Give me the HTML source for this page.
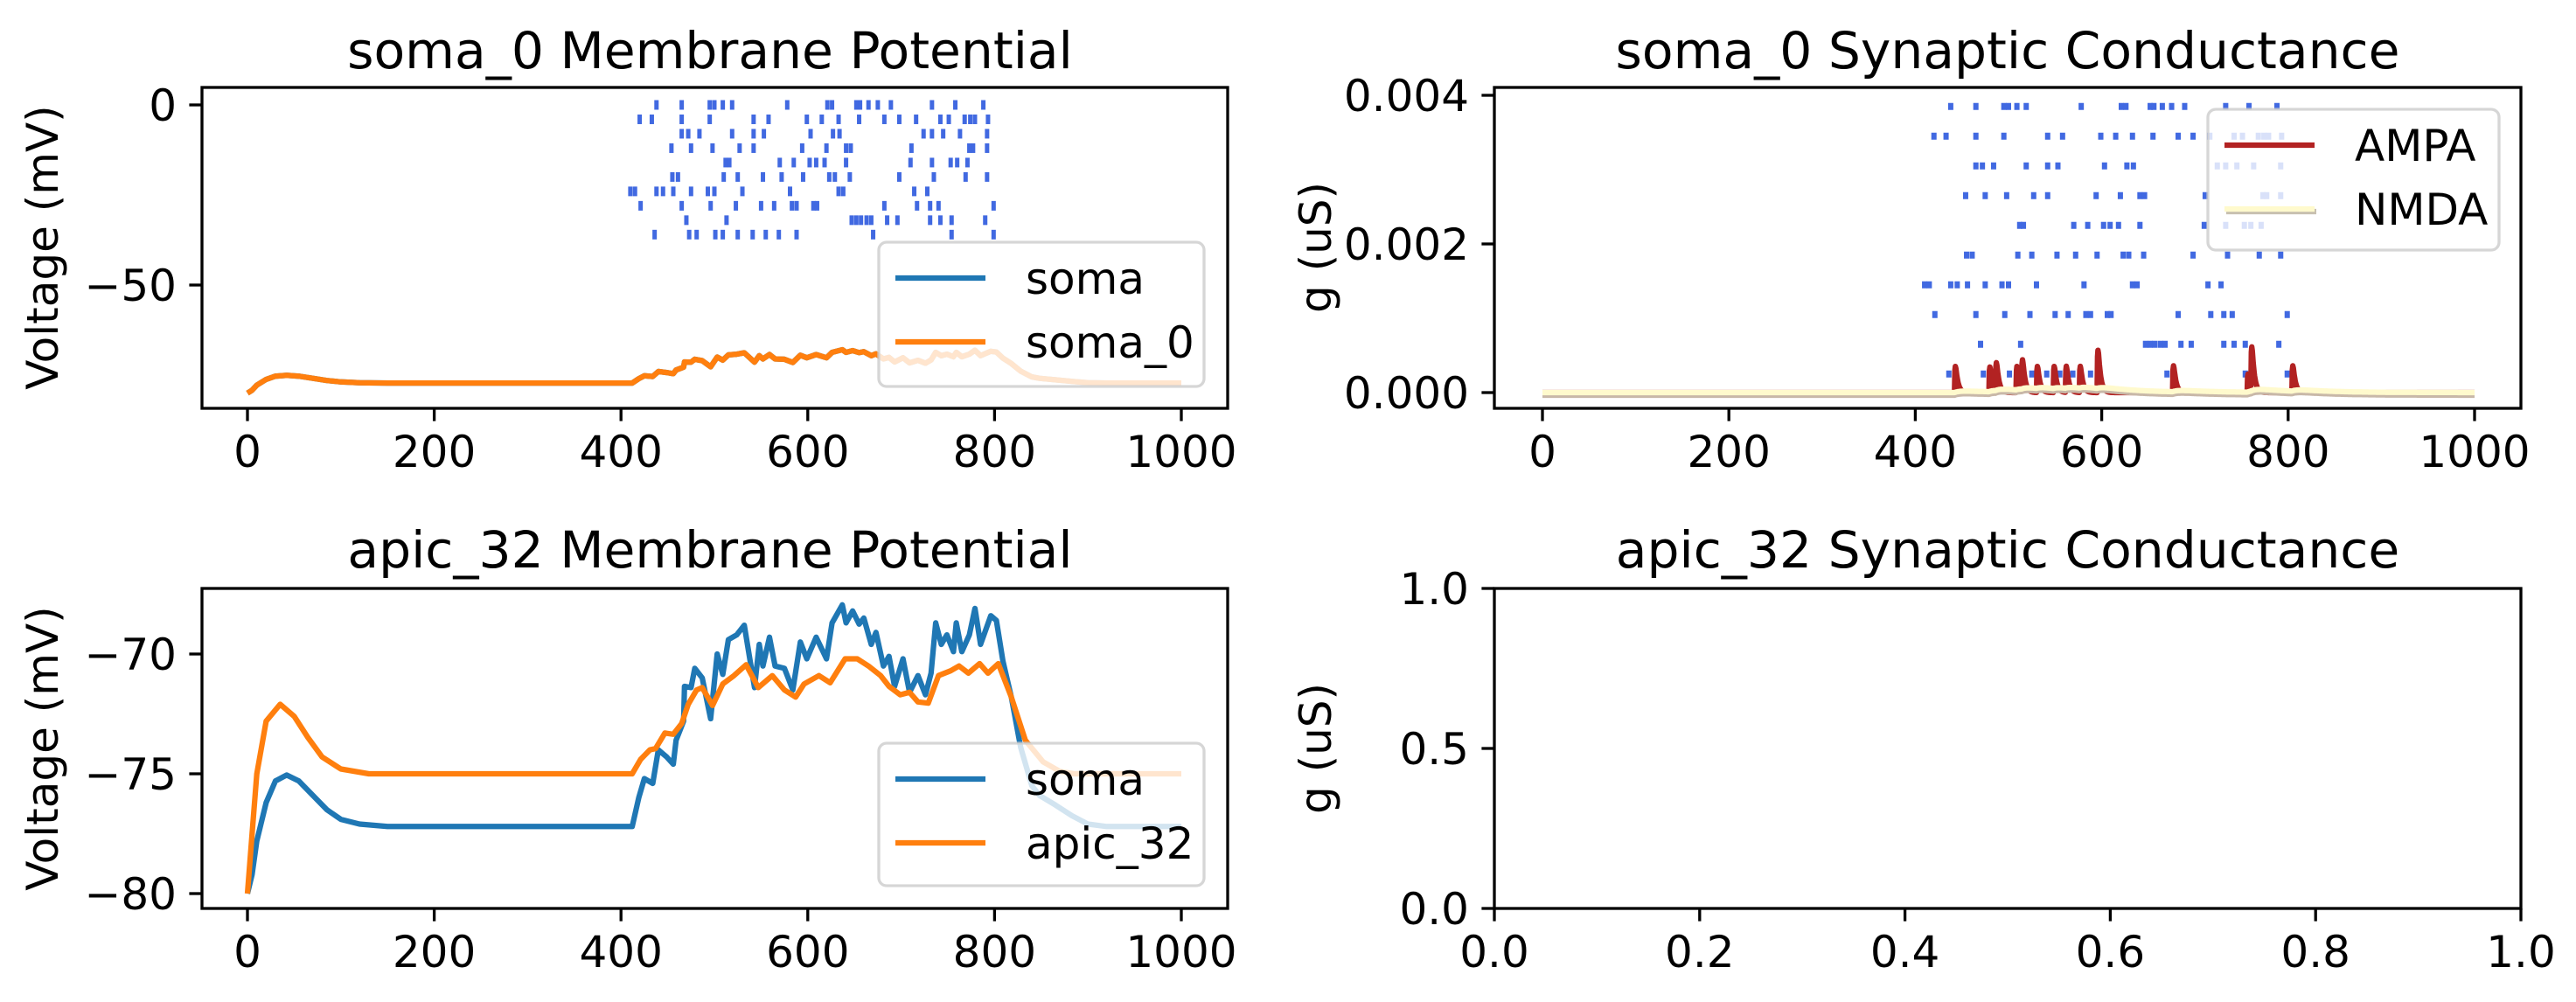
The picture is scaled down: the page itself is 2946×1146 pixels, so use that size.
<!DOCTYPE html>
<html><head><meta charset="utf-8"><style>
html,body{margin:0;padding:0;background:#fff;}
svg{display:block;font-family:"DejaVu Sans","Liberation Sans",sans-serif;}
</style></head><body>
<svg id="fig" width="2946" height="1146" viewBox="0 0 2946 1146" xmlns="http://www.w3.org/2000/svg">
<rect width="2946" height="1146" fill="#fff"/>
<defs>
<clipPath id="c1"><rect x="231" y="100" width="1173" height="367"/></clipPath>
<clipPath id="c2"><rect x="1709" y="100" width="1174" height="367"/></clipPath>
<clipPath id="c3"><rect x="231" y="673" width="1173" height="366"/></clipPath>
</defs>
</svg>
<script>
// ---- data ----
const somaT=[0,5,10,20,30,42,55,70,85,100,120,150,200,300,412,419,425,434,440,449,456,459,467,468,475,479,487,496,503,509,515,524,532,543,548,552,559,565,575,584,592,599,609,620,626,637,641,648,655,660,668,673,681,687,693,702,709,718,726,732,737,743,749,756,759,765,773,779,785,796,802,809,818,828,840,848,865,883,900,920,1000];
const somaV=[-80,-79.2,-77.8,-76.2,-75.3,-75.05,-75.3,-75.9,-76.5,-76.9,-77.1,-77.2,-77.2,-77.2,-77.2,-76.0,-75.2,-75.4,-74.0,-74.3,-74.6,-73.6,-72.8,-71.35,-71.4,-70.6,-71.0,-72.7,-70.0,-70.85,-69.4,-69.2,-68.8,-71.4,-69.6,-70.5,-69.3,-70.5,-70.6,-71.5,-69.5,-70.2,-69.3,-70.2,-68.7,-67.95,-68.7,-68.2,-68.75,-68.5,-69.6,-69.1,-70.5,-70.1,-71.35,-70.2,-71.6,-70.9,-71.7,-70.8,-68.7,-69.6,-69.2,-69.9,-68.7,-69.9,-69.2,-68.1,-69.6,-68.4,-68.6,-70.3,-71.8,-73.9,-75.5,-75.9,-76.3,-76.75,-77.1,-77.2,-77.2];
const apicT=[0,5,10,20,35,50,65,80,100,130,200,300,412,421,431,437,447,456,465,472,481,487,498,509,521,534,547,562,575,587,596,612,624,640,653,665,678,687,699,709,718,729,740,753,762,772,784,793,804,818,833,852,870,885,1000];
const apicV=[-80,-77.5,-75.0,-72.8,-72.1,-72.6,-73.5,-74.3,-74.8,-75.0,-75.0,-75.0,-75.0,-74.4,-74.0,-73.95,-73.3,-73.35,-72.9,-72.1,-71.5,-71.4,-72.15,-71.25,-70.9,-70.45,-71.4,-70.9,-71.5,-71.8,-71.25,-70.9,-71.2,-70.2,-70.2,-70.5,-70.9,-71.35,-71.7,-71.6,-72.0,-72.05,-70.9,-70.7,-70.5,-70.8,-70.4,-70.8,-70.4,-71.8,-73.6,-74.5,-74.9,-75.0,-75.0];
const spikeRows=[
[438,465,495,500,509,519,578,621,626,652,656,665,675,689,733,758,788],
[420,433,465,495,542,558,599,615,633,655,682,698,716,742,751,768,774,779,793],
[465,472,484,519,542,553,603,627,634,724,733,745,763,792],
[454,475,498,527,542,594,620,641,646,711,773,777,792],
[512,516,570,585,602,609,618,641,710,733,753,760,771],
[455,461,510,525,552,572,595,623,629,645,698,735,769,792],
[410,415,438,445,456,475,493,500,530,581,633,638,714,728],
[421,465,496,523,550,564,583,588,606,610,682,717,731,740,799],
[470,513,647,652,657,663,668,685,696,731,742,754,790],
[436,473,481,501,509,525,541,555,569,588,670,754,799]];
const rowVoltage=[0,-4,-8,-12,-16,-20,-24,-28,-32,-36];
const rowCond=[0.00385,0.00345,0.00305,0.00265,0.00225,0.00185,0.00145,0.00105,0.00065,0.00025];
const ampaTimes=[442,479,486,508,514,530,548,561,576,595,676,756,760,804];
const ampaPeaks=[0.00042,0.00041,0.00045,0.00042,0.00048,0.00042,0.00042,0.00042,0.00042,0.00068,0.00043,0.0003,0.00066,0.00043];
const nmdaWeight=[0.00003];
const xTicks=[0,200,400,600,800,1000];
const yTicksTL=[0,-50];
const yTicksBL=[-70,-75,-80];
const yTicksTR=[0,0.002,0.004];
const yTicksTRLabels=["0.000","0.002","0.004"];
const emptyX=[0,0.2,0.4,0.6,0.8,1.0];
const emptyY=[0,0.5,1.0];

const NS="http://www.w3.org/2000/svg";
const svg=document.getElementById('fig');
const FS=50, TFS=58.3;
function mk(tag,attrs,parent){const e=document.createElementNS(NS,tag);for(const k in attrs)e.setAttribute(k,attrs[k]);(parent||svg).appendChild(e);return e;}
const xL=t=>283+t*1.068;
const xR=t=>1764+t*1.066;
const yTL=v=>120-v*4.12;
const yBL=v=>748+(-70-v)*27.4;
const yTR=g=>449-g*85000;
const xE=u=>1709+u*1174;
const yE=u=>1039-u*366;

function linePath(ts,vs,fx,fy){return ts.map((t,i)=>(i?'L':'M')+fx(t).toFixed(1)+' '+fy(vs[i]).toFixed(1)).join(' ');}

function frame(x,y,w,h,name){const r=mk('rect',{x,y,width:w,height:h,fill:'none',stroke:'#000','stroke-width':3.3});

}
function xticks(ticks,fx,yb,labels,name){ticks.forEach((t,i)=>{const x=fx(t);
mk('line',{x1:x,x2:x,y1:yb,y2:yb+14.6,stroke:'#000','stroke-width':3.3});
const tx=mk('text',{x:x,y:yb+67,'font-size':FS,'text-anchor':'middle',fill:'#000'});tx.textContent=labels?labels[i]:String(t);

});}
function yticks(ticks,fy,xl,labels,name){ticks.forEach((t,i)=>{const y=fy(t);
mk('line',{x1:xl,x2:xl-14.6,y1:y,y2:y,stroke:'#000','stroke-width':3.3});
const tx=mk('text',{x:xl-29,y:y+18,'font-size':FS,'text-anchor':'end',fill:'#000'});tx.textContent=labels?labels[i]:String(t).replace('-','\u2212');

});}
function text(x,y,s,size,name,rot){const a={x,y,'font-size':size,'text-anchor':'middle',fill:'#000'};if(rot)a.transform='rotate(-90 '+x+' '+y+')';const t=mk('text',a);t.textContent=s;

return t;}
function raster(rows,fx,fy,h,w,clip,name){const g=mk('g',{'clip-path':'url(#'+clip+')'});


rows.forEach((row,r)=>row.forEach(t=>{mk('rect',{x:fx(t)-w/2,y:fy(r)-h/2,width:w,height:h,fill:'#4169e1'},g);}));}
function legend(x,y,w,h,items,name){const g=mk('g',{});


mk('rect',{x,y,width:w,height:h,rx:9,fill:'#fff','fill-opacity':0.8,stroke:'#cccccc','stroke-opacity':0.8,'stroke-width':3.3},g);
items.forEach((it,i)=>{const cy=y+41+i*73;
if(it.s)mk('line',{x1:x+21,x2:x+124,y1:cy+3,y2:cy+3,stroke:'#c8c0b0','stroke-width':6.25},g);
mk('line',{x1:x+19,x2:x+122,y1:cy,y2:cy,stroke:it.c,'stroke-width':6.25},g);
const t=mk('text',{x:x+168,y:cy+18,'font-size':FS,fill:'#000'},g);t.textContent=it.l;

});}

// ---- Top-left ----
text(812,78,'soma_0 Membrane Potential',TFS,'title-soma0-potential');
text(66,283,'Voltage (mV)',FS,'y-axis-title-tl',true);
raster(spikeRows,xL,r=>yTL(rowVoltage[r]),11,5,'c1','spike-raster-tl');
{const g=mk('g',{'clip-path':'url(#c1)'});
const p1=mk('path',{d:linePath(somaT,somaV,xL,yTL),fill:'none',stroke:'#1f77b4','stroke-width':6.25,'stroke-linejoin':'round'},g);


const p2=mk('path',{d:linePath(somaT,somaV,xL,yTL),fill:'none',stroke:'#ff7f0e','stroke-width':6.25,'stroke-linejoin':'round'},g);

}
legend(1005,277,372,165,[{c:'#1f77b4',l:'soma'},{c:'#ff7f0e',l:'soma_0'}],'legend-tl');
frame(231,100,1173,367,'axes-tl');
xticks(xTicks,xL,467,null,'tl');
yticks(yTicksTL,yTL,231,null,'tl');

// ---- Top-right ----
text(2296,78,'soma_0 Synaptic Conductance',TFS,'title-soma0-conductance');
text(1522,283,'g (uS)',FS,'y-axis-title-tr',true);
raster(spikeRows,xR,r=>yTR(rowCond[r]),8,6,'c2','spike-raster-tr');
{const ts=[],ga=[],gn=[];for(let t=0;t<=1000;t+=0.5){let a=0,n=0;ampaTimes.forEach((s,i)=>{if(t>=s){const d=t-s;a+=ampaPeaks[i]*(1-Math.exp(-d/0.6))*Math.exp(-d/2.5)/0.65;n+=nmdaWeight[0]*(1-Math.exp(-d/6))*Math.exp(-d/40);}});ts.push(t);ga.push(a);gn.push(n);}
const g=mk('g',{'clip-path':'url(#c2)'});
const p1=mk('path',{d:linePath(ts,ga,xR,yTR),fill:'none',stroke:'#b22222','stroke-width':6.25,'stroke-linejoin':'round'},g);


mk('path',{d:linePath(ts,gn,xR,v=>yTR(v)+3),fill:'none',stroke:'#c8b8a8','stroke-width':6.25},g);
const p2=mk('path',{d:linePath(ts,gn,xR,yTR),fill:'none',stroke:'#fffacd','stroke-width':6.25,'stroke-linejoin':'round'},g);

}
legend(2525,125,333,161,[{c:'#b22222',l:'AMPA'},{c:'#fffacd',l:'NMDA',s:1}],'legend-tr');
frame(1709,100,1174,367,'axes-tr');
xticks(xTicks,xR,467,null,'tr');
yticks(yTicksTR,yTR,1709,yTicksTRLabels,'tr');

// ---- Bottom-left ----
text(812,649,'apic_32 Membrane Potential',TFS,'title-apic32-potential');
text(66,856,'Voltage (mV)',FS,'y-axis-title-bl',true);
{const g=mk('g',{'clip-path':'url(#c3)'});
const p1=mk('path',{d:linePath(somaT,somaV,xL,yBL),fill:'none',stroke:'#1f77b4','stroke-width':6.25,'stroke-linejoin':'round'},g);


const p2=mk('path',{d:linePath(apicT,apicV,xL,yBL),fill:'none',stroke:'#ff7f0e','stroke-width':6.25,'stroke-linejoin':'round'},g);

}
legend(1005,850,372,163,[{c:'#1f77b4',l:'soma'},{c:'#ff7f0e',l:'apic_32'}],'legend-bl');
frame(231,673,1173,366,'axes-bl');
xticks(xTicks,xL,1039,null,'bl');
yticks(yTicksBL,yBL,231,null,'bl');

// ---- Bottom-right ----
text(2296,649,'apic_32 Synaptic Conductance',TFS,'title-apic32-conductance');
text(1522,856,'g (uS)',FS,'y-axis-title-br',true);
frame(1709,673,1174,366,'axes-br');
xticks(emptyX,xE,1039,emptyX.map(v=>v.toFixed(1)),'br');
yticks(emptyY,yE,1709,emptyY.map(v=>v.toFixed(1)),'br');
</script>
</body></html>
